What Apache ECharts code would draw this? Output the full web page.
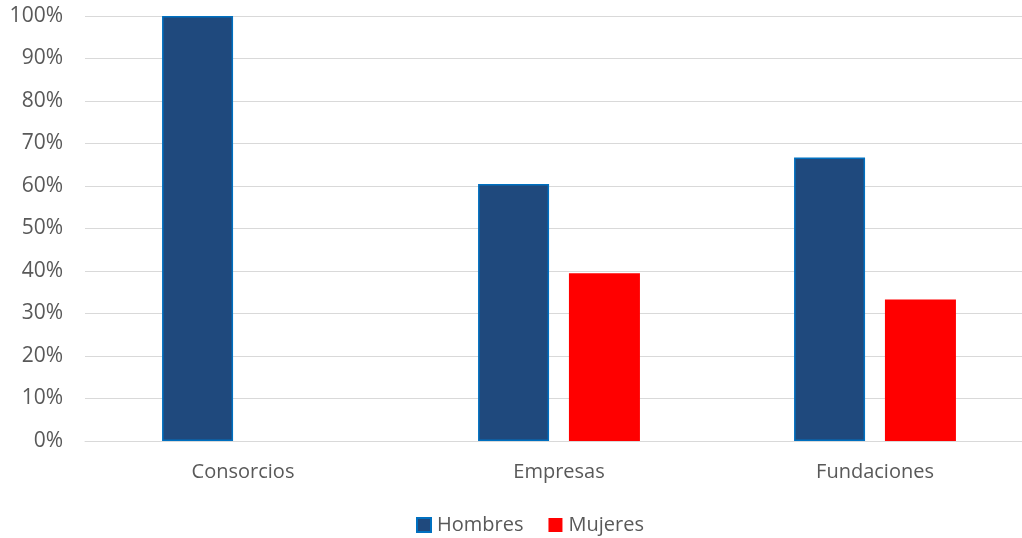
<!DOCTYPE html>
<html><head><meta charset="utf-8">
<script src="https://cdn.jsdelivr.net/npm/echarts@6/dist/echarts.min.js"></script>
<style>html,body{margin:0;padding:0;background:#fff}#c{width:1022px;height:538px}</style>
</head><body><div id="c"></div>
<script>
const categories = ['Consorcios', 'Empresas', 'Fundaciones'];
const hombres = [100, 60.5, 66.7];
const mujeres = [0, 39.5, 33.3];
const seriesNames = ['Hombres', 'Mujeres'];

const chart = echarts.init(document.getElementById('c'));
const font = 'Open Sans';
chart.setOption({
  animation: false,
  textStyle: { fontFamily: font },
  grid: { left: 85, width: 948, top: 16, height: 425, outerBoundsMode: 'none', containLabel: false },
  legend: {
    top: 510, left: 411, icon: 'rect', itemWidth: 14, itemHeight: 14, itemGap: 25,
    textStyle: { fontSize: 20, color: '#595959', fontFamily: font, padding: [0, 0, 0, 1] },
    data: seriesNames
  },
  xAxis: {
    type: 'category', data: categories,
    axisLine: { lineStyle: { color: '#d9d9d9', width: 1 } },
    axisTick: { show: false },
    axisLabel: { fontSize: 20, color: '#595959', margin: 21, fontFamily: font }
  },
  yAxis: {
    type: 'value', min: 0, max: 100, interval: 10,
    axisLabel: { formatter: '{value}%', fontSize: 21, color: '#595959', margin: 22, fontFamily: font },
    splitLine: { lineStyle: { color: '#d9d9d9', width: 1 } },
    axisLine: { show: false }, axisTick: { show: false }
  },
  series: [
    { name: seriesNames[0], type: 'bar', data: hombres, barWidth: 71, barGap: '28%',
      itemStyle: { color: '#1F497D', borderColor: '#0070C0', borderWidth: 1.5 } },
    { name: seriesNames[1], type: 'bar', data: mujeres, barWidth: 71,
      itemStyle: { color: '#FF0000', borderWidth: 0 } }
  ]
});
</script></body></html>
